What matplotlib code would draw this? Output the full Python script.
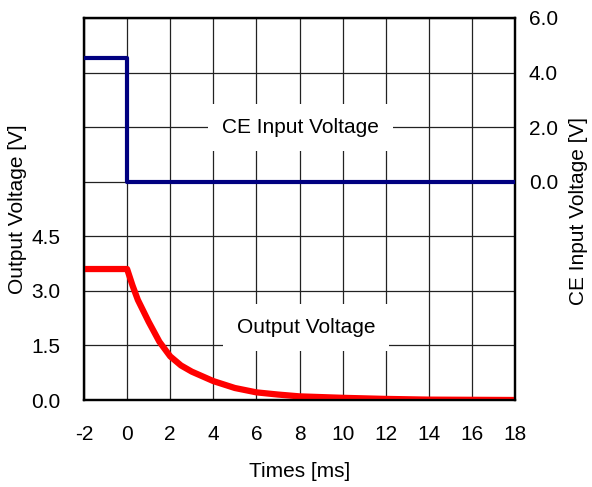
import numpy as np
import matplotlib.pyplot as plt

plt.rcParams['font.family'] = ['Liberation Sans', 'DejaVu Sans']

# CE input voltage (right axis)
ce_t = [-2, 0, 0, 18]
ce_v = [4.55, 4.55, 0.0, 0.0]

# output voltage (left axis)
out_t = [-2, 0, 0.25, 0.5, 1.0, 1.5, 2.0, 2.5, 3.0, 4.0, 5.0, 6.0, 7.0, 8.0, 10.0, 12.0, 14.0, 18.0]
out_v = [3.6, 3.6, 3.15, 2.75, 2.15, 1.6, 1.2, 0.95, 0.78, 0.52, 0.33, 0.21, 0.15, 0.1, 0.06, 0.03, 0.01, 0.0]

x_ticks = [-2, 0, 2, 4, 6, 8, 10, 12, 14, 16, 18]
x_labels = ['-2', '0', '2', '4', '6', '8', '10', '12', '14', '16', '18']
left_ticks = [0, 1.5, 3.0, 4.5, 6.0, 7.5, 9.0, 10.5]
left_labels = ['0.0', '1.5', '3.0', '4.5', '', '', '', '']
right_ticks = [-8, -6, -4, -2, 0, 2, 4, 6]
right_labels = ['', '', '', '', '0.0', '2.0', '4.0', '6.0']

fs = 15

fig = plt.figure(figsize=(5.92, 4.87), dpi=100)
ax = fig.add_axes([84 / 592, 1 - 400 / 487, (515 - 84) / 592, (400 - 18) / 487])
ax2 = ax.twinx()

ax.set_xlim(-2, 18)
ax.set_ylim(0, 10.5)
ax2.set_ylim(-8, 6)

ax.set_xticks(x_ticks)
ax.set_xticklabels(x_labels)
ax.set_yticks(left_ticks)
ax.set_yticklabels(left_labels)
ax2.set_yticks(right_ticks)
ax2.set_yticklabels(right_labels)

ax.grid(True, color='#222222', linewidth=0.9)
ax.set_axisbelow(True)

ax.tick_params(axis='x', length=0, labelsize=fs, pad=18)
ax.tick_params(axis='y', length=0, labelsize=fs, pad=17)
ax2.tick_params(length=0, labelsize=fs, pad=10)
for a in (ax, ax2):
    for s in a.spines.values():
        s.set_linewidth(1.6)

ax.plot(out_t, out_v, color='#ff0000', linewidth=4.5, zorder=3)
ax2.plot(ce_t, ce_v, color='#000080', linewidth=3, zorder=3)

ax.set_xlabel('Times [ms]', fontsize=fs, labelpad=13)
fig.text(18 / 592, 1 - 209 / 487, 'Output Voltage [V]', fontsize=fs, rotation=90,
         ha='center', va='center')
fig.text(578 / 592, 1 - 211 / 487, 'CE Input Voltage [V]', fontsize=fs, rotation=90,
         ha='center', va='center')

ax2.text(8.05, 2.0, 'CE Input Voltage', fontsize=fs, ha='center', va='center',
         bbox=dict(facecolor='white', edgecolor='none', pad=10))
ax.text(8.3, 2.0, 'Output Voltage', fontsize=fs, ha='center', va='center',
        bbox=dict(facecolor='white', edgecolor='none', pad=10))

fig.savefig('out.png', dpi=100)
